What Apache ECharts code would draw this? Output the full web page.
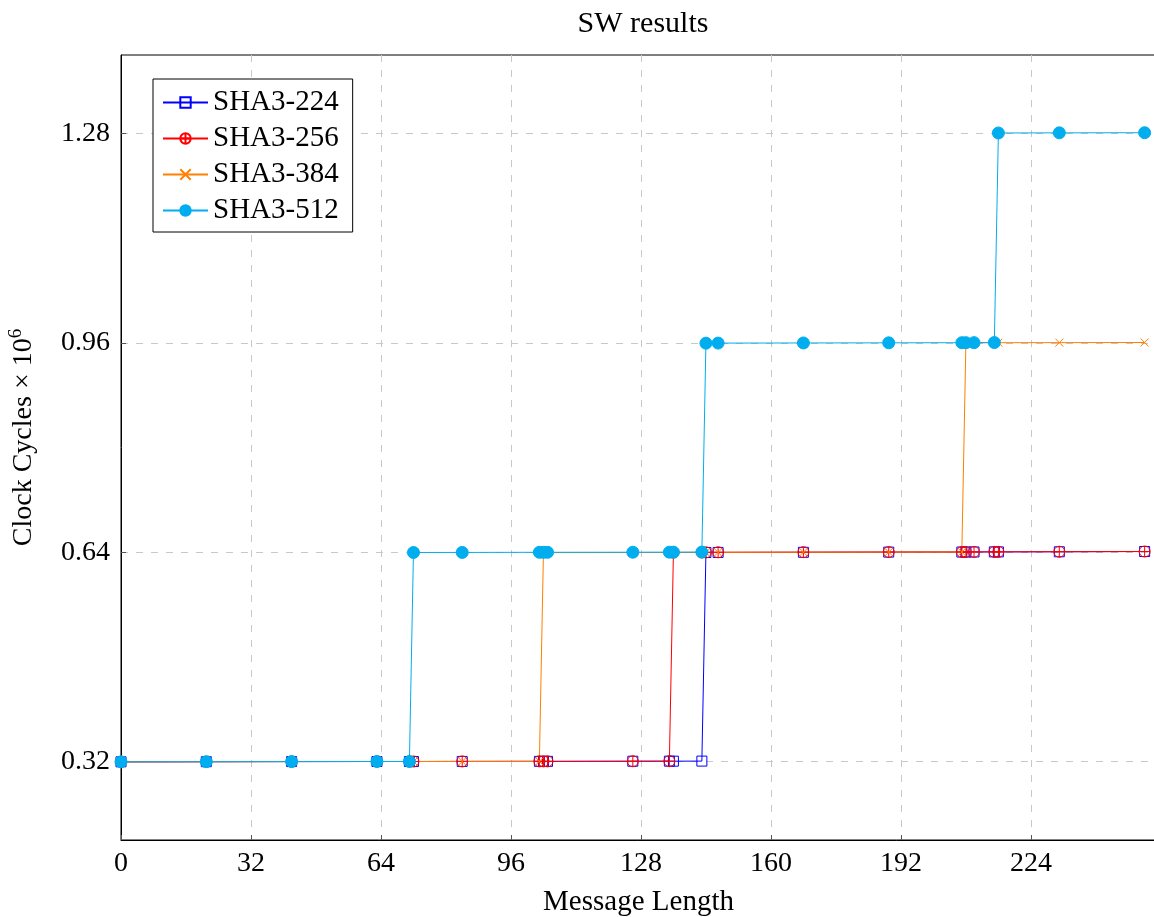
<!DOCTYPE html>
<html>
<head>
<meta charset="utf-8">
<title>SW results</title>
<script src="https://cdn.jsdelivr.net/npm/echarts@6/dist/echarts.min.js"></script>
<style>
  html, body { margin: 0; padding: 0; background: #fff; }
  #main { width: 1154px; height: 917px; }
</style>
</head>
<body>
<div id="main"></div>
<script>
// 消息长度 (x)
const msgLength = [0, 21, 42, 63, 71, 72, 84, 103, 104, 105, 126, 135, 136, 143, 144, 147, 168, 189, 207, 208, 210, 215, 216, 231, 252]

// 时钟周期 x 10^6, 每个算法一组
const sha224 = [0.3195, 0.3197, 0.3199, 0.3200, 0.3200, 0.3200, 0.3201, 0.3202, 0.3202, 0.3202, 0.3204, 0.3205, 0.3205, 0.3206,
  0.6395, 0.6396, 0.6398, 0.6401, 0.6402, 0.6402, 0.6403, 0.6404, 0.6404, 0.6406, 0.6410]
const sha256 = [0.3195, 0.3197, 0.3199, 0.3200, 0.3200, 0.3200, 0.3201, 0.3202, 0.3202, 0.3202, 0.3204, 0.3205,
  0.6395, 0.6396, 0.6397, 0.6398, 0.6400, 0.6402, 0.6403, 0.6403, 0.6404, 0.6405, 0.6405, 0.6407, 0.6410]
const sha384 = [0.3195, 0.3197, 0.3199, 0.3200, 0.3200, 0.3200, 0.3201, 0.3202,
  0.6392, 0.6393, 0.6395, 0.6396, 0.6396, 0.6397, 0.6397, 0.6398, 0.6399, 0.6401, 0.6402,
  0.9600, 0.9601, 0.9602, 0.9602, 0.9603, 0.9605]
const sha512 = [0.3195, 0.3197, 0.3199, 0.3200, 0.3200,
  0.6395, 0.6396, 0.6398, 0.6398, 0.6398, 0.6399, 0.6400, 0.6400, 0.6401,
  0.9595, 0.9596, 0.9598, 0.9600, 0.9602, 0.9602, 0.9603, 0.9604,
  1.2808, 1.2810, 1.2812]

// y轴刻度
const yTicks = [0.32, 0.64, 0.96, 1.28]

const seriesNames = ['SHA3-224', 'SHA3-256', 'SHA3-384', 'SHA3-512']
const seriesData = [sha224, sha256, sha384, sha512]

const FONT = "'Liberation Serif', 'DejaVu Serif', serif"

// 拼成 [x, y]
const pairs = function (ys) {
  return msgLength.map((x, i) => [x, ys[i]])
}

// 每条线的样式
const styles = [
  { color: '#0000ff', symbol: 'rect', size: 10, fill: 'rgba(0,0,0,0)' },
  { color: '#ff0000', symbol: 'path://M0,5A5,5,0,1,1,10,5A5,5,0,1,1,0,5ZM5,0L5,10M0,5L10,5', size: 11, fill: 'rgba(0,0,0,0)' },
  { color: '#ff8000', symbol: 'path://M0,0L10,10M10,0L0,10', size: 8, fill: 'rgba(0,0,0,0)' },
  { color: '#00aeef', symbol: 'circle', size: 12, fill: '#00aeef' },
]

const series = seriesNames.map((name, i) => {
  const s = styles[i]
  return {
    name,
    type: 'line',
    data: pairs(seriesData[i]),
    symbol: s.symbol,
    symbolSize: s.size,
    symbolKeepAspect: true,
    showAllSymbol: true,
    clip: false,
    lineStyle: { color: s.color, width: 1 },
    itemStyle: { color: s.fill, borderColor: s.color, borderWidth: 1 },
  }
})

const chart = echarts.init(document.getElementById('main'))

const option = {
  animation: false,
  backgroundColor: '#fff',
  title: {
    text: 'SW results',
    left: 638,
    textAlign: 'center',
    top: 4,
    textStyle: { fontFamily: FONT, fontSize: 30, fontWeight: 'normal', color: '#000' },
  },
  legend: {
    orient: 'vertical',
    left: 153,
    top: 79,
    padding: [9, 14, 7, 9],
    itemGap: 7,
    itemWidth: 45,
    itemHeight: 13,
    borderColor: '#000',
    borderWidth: 1,
    backgroundColor: '#fff',
    textStyle: { fontFamily: FONT, fontSize: 29, color: '#000', lineHeight: 27 },
    data: seriesNames,
  },
  grid: {
    left: 121,
    top: 55,
    right: -2,
    bottom: 77,
    show: true,
    borderColor: '#000',
    borderWidth: 1,
    containLabel: false,
    outerBoundsMode: 'none',
  },
  xAxis: {
    type: 'value',
    min: 0,
    max: 254.8,
    interval: 32,
    name: 'Message Length',
    nameLocation: 'middle',
    nameGap: 48,
    nameTextStyle: { fontFamily: FONT, fontSize: 29, color: '#000' },
    axisLine: { show: true, lineStyle: { color: '#000', width: 1 } },
    axisTick: { show: true, inside: true, length: 5, lineStyle: { color: '#555' } },
    axisLabel: {
      fontFamily: FONT, fontSize: 28, color: '#000', margin: 10,
      showMaxLabel: false,
      formatter: v => (v % 32 === 0 ? String(v) : ''),
    },
    splitLine: { show: true, lineStyle: { color: '#c8c8c8', width: 1, type: [7, 8] } },
  },
  yAxis: {
    type: 'value',
    min: 0.2,
    max: 1.4,
    name: 'Clock Cycles × 10{sup|6}',
    nameLocation: 'middle',
    nameGap: 81,
    nameTextStyle: {
      fontFamily: FONT, fontSize: 28, color: '#000',
      padding: [0, 0, 0, 20],
      rich: { sup: { fontFamily: FONT, fontSize: 19, color: '#000', padding: [0, 0, 14, 0] } },
    },
    axisLine: { show: true, lineStyle: { color: '#000', width: 1 } },
    axisTick: { show: true, inside: true, length: 5, customValues: yTicks, lineStyle: { color: '#555' } },
    axisLabel: {
      fontFamily: FONT, fontSize: 28, color: '#000', margin: 11,
      customValues: yTicks,
      formatter: v => v.toFixed(2),
    },
    splitLine: { show: true, lineStyle: { color: '#c8c8c8', width: 1, type: [7, 8] } },
  },
  series,
}

chart.setOption(option)
</script>
</body>
</html>
